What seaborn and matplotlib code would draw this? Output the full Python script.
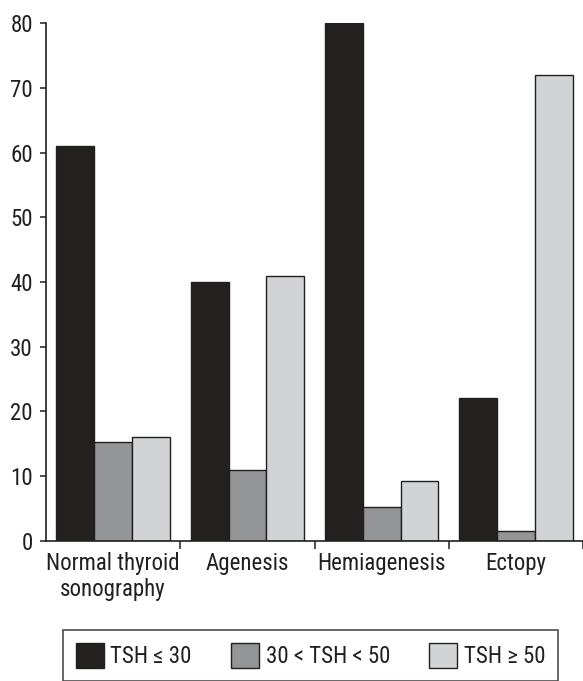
import matplotlib
matplotlib.use("Agg")
import matplotlib.pyplot as plt
import seaborn as sns
import pandas as pd

categories = ["Normal thyroid\nsonography", "Agenesis", "Hemiagenesis", "Ectopy"]
groups = ["TSH \u2264 30", "30 < TSH < 50", "TSH \u2265 50"]
tsh_low = [61, 40, 80, 22]
tsh_mid = [15.2, 11, 5.2, 1.5]
tsh_high = [16, 41, 9.2, 72]
colors = ["#231f20", "#939598", "#d1d3d4"]

rows = []
for g, vals in zip(groups, [tsh_low, tsh_mid, tsh_high]):
    for c, v in zip(categories, vals):
        rows.append({"category": c, "group": g, "value": v})
df = pd.DataFrame(rows)

fs = 16.5
sns.set_style("ticks")
plt.rcParams['font.family'] = ['Roboto Condensed', 'DejaVu Sans']
plt.rcParams['font.size'] = fs
plt.rcParams['text.color'] = "#231f20"

fig = plt.figure(figsize=(5.83, 6.81), dpi=100)
ax = fig.add_axes([0.079, 0.206, 0.921, 0.7595])

sns.barplot(data=df, x="category", y="value", hue="group", order=categories,
            hue_order=groups, palette=colors, width=0.845, gap=0,
            edgecolor="#231f20", linewidth=1, ax=ax, legend=True)

ax.set_ylim(0, 80)
ax.set_xlim(-0.5, 3.5)
ax.set_yticks(range(0, 81, 10))
ax.set_xlabel("")
ax.set_ylabel("")
# ticks sit between the groups, labels in the middle
ax.set_xticks([0.5, 1.5, 2.5, 3.5])
ax.set_xticklabels([])
ax.set_xticks(range(4), minor=True)
ax.set_xticklabels(categories, minor=True)
ax.tick_params(axis="x", which="minor", length=0, pad=8, labelsize=fs,
               labelcolor="#231f20")
ax.tick_params(axis="x", which="major", length=6, width=1.1, color="#231f20")
ax.tick_params(axis="y", length=4.5, width=1.1, pad=5, color="#231f20",
               labelsize=fs, labelcolor="#231f20")
sns.despine(ax=ax)
for s in ["left", "bottom"]:
    ax.spines[s].set_color("#231f20")
    ax.spines[s].set_linewidth(1.2)

handles, labels = ax.get_legend_handles_labels()
ax.get_legend().remove()
top = 1 - 630 / 681
leg = fig.legend(handles, labels, ncol=3, loc="upper left",
                 bbox_to_anchor=(63 / 583, top - 0.2, (558 - 63) / 583, 0.2),
                 mode="expand", borderaxespad=0, frameon=True,
                 fancybox=False, edgecolor="#231f20", fontsize=fs,
                 handlelength=1.22, handleheight=1.35,
                 borderpad=0.55, handletextpad=0.3)
leg.get_frame().set_linewidth(1.2)

fig.savefig("out.png", dpi=100)
